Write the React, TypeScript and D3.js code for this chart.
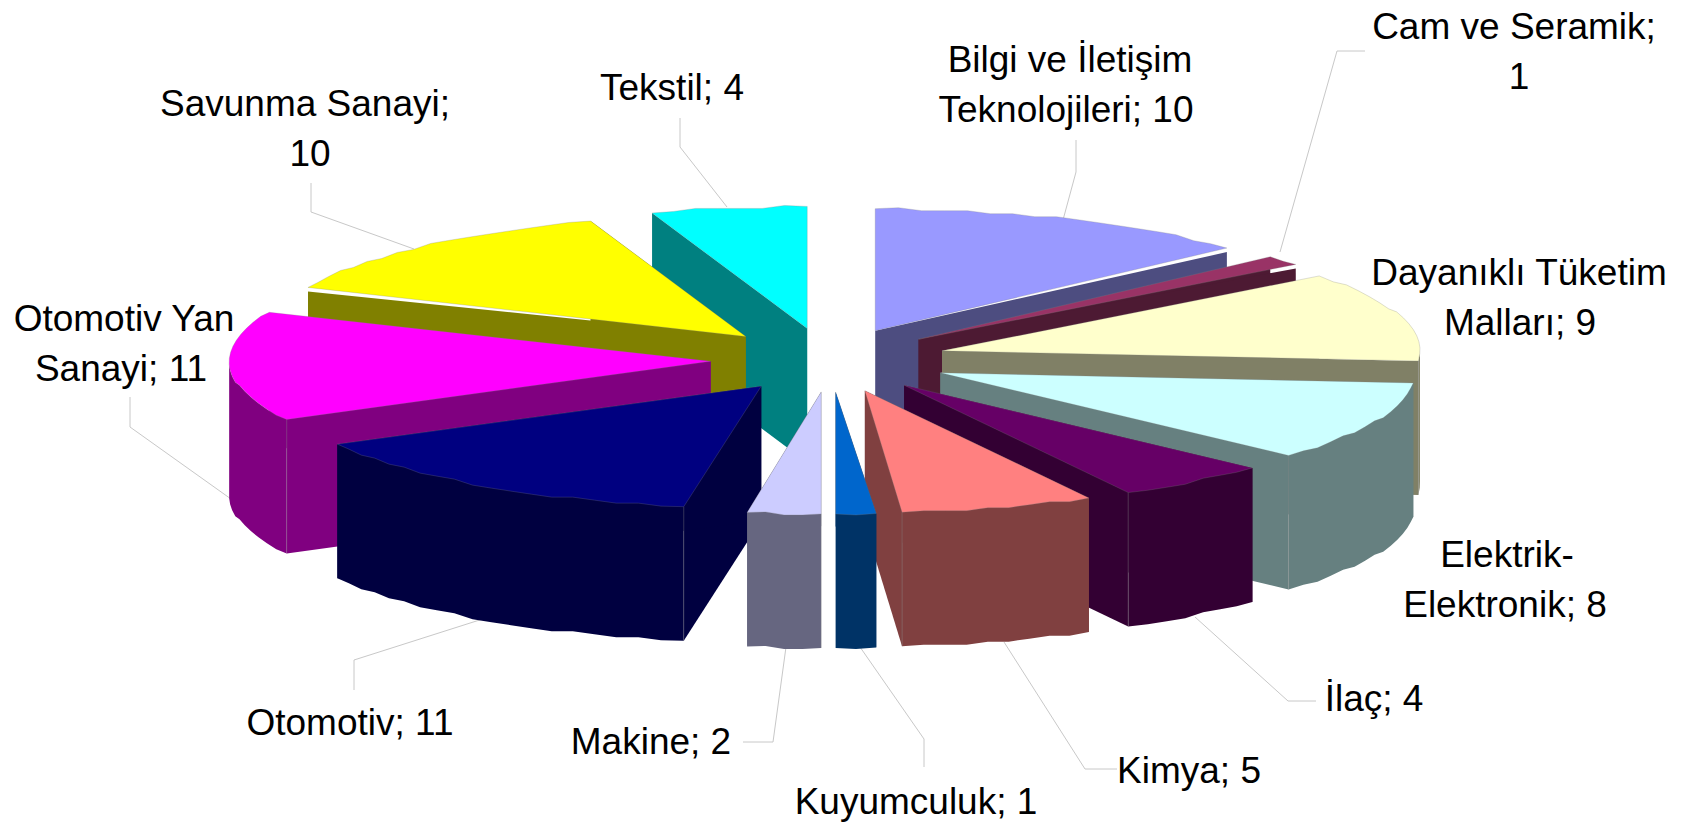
import * as d3 from 'd3';

const categories = [
  'Bilgi ve İletişim Teknolojileri', 'Cam ve Seramik', 'Dayanıklı Tüketim Malları', 'Elektrik-Elektronik',
  'İlaç', 'Kimya', 'Kuyumculuk', 'Makine', 'Otomotiv', 'Otomotiv Yan Sanayi', 'Savunma Sanayi', 'Tekstil',
];
// labels are rounded, the wedges show a bit more precision
const values = [10, 1, 9, 8, 4, 4.97, 1.03, 1.88, 11.12, 11, 10, 4];
const sliceColors = [
  '#9999ff', '#993366', '#ffffcc', '#ccffff', '#660066', '#ff8080',
  '#0066cc', '#ccccff', '#000080', '#ff00ff', '#ffff00', '#00ffff',
];

// label text per slice, one entry per line
const labelLines = [
  ['Bilgi ve İletişim', 'Teknolojileri; 10'], ['Cam ve Seramik;', '1'], ['Dayanıklı Tüketim', 'Malları; 9'],
  ['Elektrik-', 'Elektronik; 8'], ['İlaç; 4'], ['Kimya; 5'], ['Kuyumculuk; 1'], ['Makine; 2'],
  ['Otomotiv; 11'], ['Otomotiv Yan', 'Sanayi; 11'], ['Savunma Sanayi;', '10'], ['Tekstil; 4'],
];

// where the labels sit: line centres, first baseline and the leader line
const labelLayout = [
  { xs: [1070, 1066], y: 72, leader: [[1076, 140], [1076, 172], [1063, 220]] },
  { xs: [1514, 1519], y: 39, leader: [[1365, 51], [1337, 51], [1280, 252]] },
  { xs: [1519, 1520], y: 285, leader: [] },
  { xs: [1507, 1505], y: 567, leader: [] },
  { xs: [1374], y: 711, leader: [[1316, 701], [1288, 701], [1195, 617]] },
  { xs: [1189], y: 783, leader: [[1117, 769], [1085, 769], [1004, 642]] },
  { xs: [916], y: 814, leader: [[924, 767], [924, 739], [860, 647]] },
  { xs: [651], y: 754, leader: [[743, 742], [773, 742], [786, 647]] },
  { xs: [350], y: 735, leader: [[354, 690], [354, 660], [489, 617]] },
  { xs: [124, 121], y: 331, leader: [[130, 397], [130, 427], [231, 499]] },
  { xs: [305, 310], y: 116, leader: [[311, 183], [311, 212], [414, 249]] },
  { xs: [672], y: 100, leader: [[680, 118], [680, 147], [727, 207]] },
];

const width = 1684;
const height = 824;
const cx = 827;
const cy = 360;
const rx = 478;
const ry = 122;
const explodeX = 120;
const explodeY = 32;
const depth = 134;
const fontSize = 37;
const lineGap = 50;
const rearGap = 4;
const frontNudge = 3.5;

const pie = d3.pie<number>().sort(null).value((d) => d);
const arcs = pie(values);

type Pt = [number, number];

// the source chart is a coarse raster, so the rim is stepped instead of smooth
const rim = (ox: number, oy: number, a0: number, a1: number) => {
  const steps = Math.max(2, Math.ceil((a1 - a0) / 0.05));
  return d3.range(steps + 1).map((i) => {
    const a = a0 + ((a1 - a0) * i) / steps;
    const dx = rx * Math.sin(a);
    const dy = -ry * Math.cos(a);
    const edge = i === 0 || i === steps;
    return { a, p: [ox + dx, oy + (edge ? dy : Math.round(dy / 3) * 3)] as Pt };
  });
};

const line = d3.line<Pt>();
const down = (p: Pt, h: number): Pt => [p[0], p[1] + h];

const slices = arcs.map((arc, i) => {
  const mid = (arc.startAngle + arc.endAngle) / 2;
  const front = Math.cos(mid) < 0;
  const ox = cx + explodeX * Math.sin(mid);
  const oy = cy - explodeY * Math.cos(mid);
  // front apexes sit slightly right of the ideal position, the thin bottom wedges move whole
  const whole = front && Math.abs(Math.sin(mid)) < 0.1;
  const rimPts = rim(ox + (whole ? frontNudge : 0), oy, arc.startAngle, arc.endAngle);
  const pts = rimPts.map((d) => d.p);
  const top: Pt = [ox + (front ? frontNudge : 0), oy];
  const first = pts[0];
  const last = pts[pts.length - 1];
  const base = d3.rgb(sliceColors[i]);
  const wall = d3.rgb(base.r / 2, base.g / 2, base.b / 2).formatHex();
  // the rear walls start a little below the top face, which leaves a white sliver
  const gapFor = (a: number) => (Math.cos(a) > 0.1 && Math.abs(Math.sin(a)) > 0.5 ? rearGap : 0);
  const walls: Pt[][] = [
    [top, down(first, gapFor(arc.startAngle)), down(first, depth), down(top, depth)],
    [top, down(last, gapFor(arc.endAngle)), down(last, depth), down(top, depth)],
  ];
  // rim wall, only the part that faces the viewer
  const facing = rimPts.filter((d) => Math.cos(d.a) < 0.02).map((d) => d.p);
  if (facing.length > 1) {
    walls.push([...facing, ...facing.map((p) => down(p, depth)).reverse()]);
  }
  // vertical seam at the front corner, where radial wall meets the rim
  const corner = (() => {
    if (arc.endAngle > Math.PI / 2 && arc.endAngle < Math.PI) return last;
    if (arc.startAngle >= Math.PI && arc.startAngle < (3 * Math.PI) / 2) return first;
    return null;
  })();
  return { i, name: categories[i], oy, top, pts, wall, color: sliceColors[i], walls, corner };
});

// paint from back to front
const drawOrder = [...slices].sort((a, b) => a.oy - b.oy);

export default function App() {
  return (
    <svg
      width={width}
      height={height}
      viewBox={`0 0 ${width} ${height}`}
      style={{ position: 'absolute', left: 0, top: 0, background: '#fff' }}
      fontFamily="'Liberation Sans', Arial, sans-serif"
    >
      <g fill="none" stroke="#c8c8c8" strokeWidth={1}>
        {labelLayout.map((l, i) =>
          l.leader.length ? <path key={i} d={line(l.leader as Pt[]) ?? ''} /> : null,
        )}
      </g>
      {drawOrder.map((s) => (
        <g key={s.name}>
          {s.walls.map((w, k) => (
            <path key={k} d={`${line(w)}Z`} fill={s.wall} />
          ))}
          {s.corner && (
            <line
              x1={s.corner[0]}
              y1={s.corner[1]}
              x2={s.corner[0]}
              y2={s.corner[1] + depth}
              stroke="#888"
              strokeOpacity={0.5}
              strokeWidth={0.75}
            />
          )}
          <path
            d={`${line([s.top, ...s.pts])}Z`}
            fill={s.color}
            stroke="#808080"
            strokeOpacity={0.35}
            strokeWidth={0.75}
          />
        </g>
      ))}
      <g fontSize={fontSize} fill="#000" textAnchor="middle">
        {labelLines.map((lines, i) =>
          lines.map((t, k) => (
            <text key={t} x={labelLayout[i].xs[k]} y={labelLayout[i].y + k * lineGap}>
              {t}
            </text>
          )),
        )}
      </g>
    </svg>
  );
}
